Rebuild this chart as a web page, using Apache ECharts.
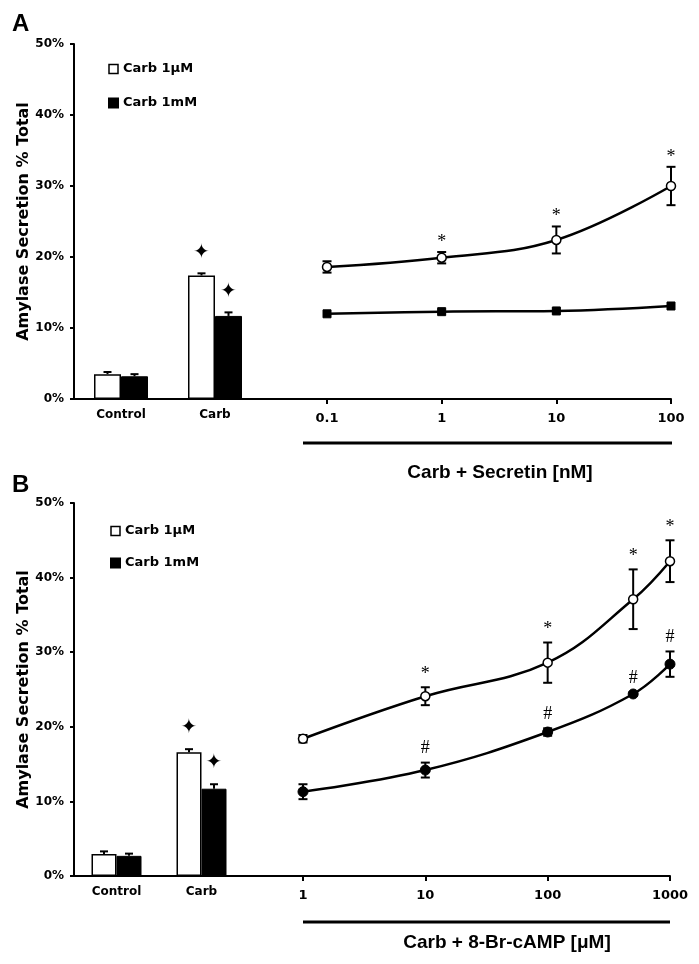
<!DOCTYPE html>
<html><head><meta charset="utf-8">
<script src="https://cdn.jsdelivr.net/npm/echarts@6/dist/echarts.min.js"></script>
<style>html,body{margin:0;padding:0;background:#fff}#c{width:699px;height:964px}</style>
</head><body><div id="c"></div>
<script>
// ---------- data ----------
const barCategories = ['Control', 'Carb'];
const seriesNames = ['Carb 1μM', 'Carb 1mM'];
const yTickPercent = [0, 10, 20, 30, 40, 50];

// Panel A
const barsA_low = [3.5, 17.4];
const barsA_low_err = [0.3, 0.3];
const barsA_low_sig = ['', '✦'];
const barsA_high = [3.2, 11.7];
const barsA_high_err = [0.3, 0.5];
const barsA_high_sig = ['', '✦'];
const secretinConc = [0.1, 1, 10, 100];
const secretinTicks = [0.1, 1, 10, 100];
const secretin_low = [18.6, 19.9, 22.4, 30.0];
const secretin_low_err = [0.8, 0.8, 1.9, 2.7];
const secretin_low_sig = ['', '*', '*', '*'];
const secretin_high = [12.0, 12.3, 12.4, 13.1];
const secretin_high_err = [0.3, 0.3, 0.3, 0.3];
const secretin_high_sig = ['', '', '', ''];

// Panel B
const barsB_low = [2.95, 16.6];
const barsB_low_err = [0.35, 0.4];
const barsB_low_sig = ['', '✦'];
const barsB_high = [2.7, 11.7];
const barsB_high_err = [0.3, 0.6];
const barsB_high_sig = ['', '✦'];
const campConc = [1, 10, 100, 500, 1000];
const camp_ticks = [1, 10, 100, 1000];
const camp_low = [18.4, 24.1, 28.6, 37.1, 42.2];
const camp_low_err = [0.5, 1.2, 2.7, 4.0, 2.8];
const camp_low_sig = ['', '*', '*', '*', '*'];
const camp_high = [11.3, 14.2, 19.3, 24.4, 28.4];
const camp_high_err = [1.0, 1.0, 0.5, 0.2, 1.7];
const camp_high_sig = ['', '#', '#', '#', '#'];

// ---------- styles ----------
const VF = 'DejaVu Sans';
const AF = 'Liberation Sans';
const SF = 'Liberation Serif';

function errSeries(xIdx, yIdx, xs, ys, errs, sigs, opt) {
  return {
    type: 'custom', xAxisIndex: xIdx, yAxisIndex: yIdx, z: 1, silent: true,
    data: xs.map((x, i) => [x, ys[i], errs[i]]),
    renderItem: function (params, api) {
      const i = params.dataIndex;
      const x = api.value(0), y = api.value(1), e = api.value(2);
      const c = api.coord([x, y]);
      const cx = c[0] + (opt.dx || 0);
      const yt = api.coord([x, y + e])[1];
      const yb = opt.upOnly ? c[1] : api.coord([x, y - e])[1];
      const hw = opt.cap / 2;
      const st = { stroke: '#000', lineWidth: 2 };
      const children = [
        { type: 'line', shape: { x1: cx, y1: yt, x2: cx, y2: yb }, style: st },
        { type: 'line', shape: { x1: cx - hw, y1: yt, x2: cx + hw, y2: yt }, style: st }
      ];
      if (!opt.upOnly) children.push({ type: 'line', shape: { x1: cx - hw, y1: yb, x2: cx + hw, y2: yb }, style: st });
      const s = sigs[i];
      if (s) {
        const f = s === '✦' ? opt.starFont : (s === '#' ? opt.hashFont : opt.astFont);
        children.push({ type: 'text', x: cx, y: yt - (s === '✦' ? opt.starGap : opt.sigGap),
          style: { text: s, font: f, fill: '#000', align: 'center', verticalAlign: 'middle' } });
      }
      return { type: 'group', children: children };
    }
  };
}

const sigFonts = { starFont: '20px ' + VF, astFont: '18px ' + SF, hashFont: '18px ' + SF, starGap: 21 };

function catAxis(g) {
  return { type: 'category', gridIndex: g, data: barCategories,
    axisLine: { lineStyle: { color: '#000', width: 2 } }, axisTick: { show: false },
    axisLabel: { color: '#000', fontFamily: VF, fontWeight: 'bold', fontSize: 12, margin: 10 },
    splitLine: { show: false } };
}
function logAxis(g, min, max, ticks) {
  return { type: 'log', gridIndex: g, min: min, max: max, logBase: 10,
    axisLine: { lineStyle: { color: '#000', width: 2 } },
    axisTick: { show: true, customValues: ticks, length: 5, lineStyle: { color: '#000', width: 2 } },
    axisLabel: { customValues: ticks, formatter: function (v) { return String(v); },
      color: '#000', fontFamily: VF, fontWeight: 'bold', fontSize: 13, margin: 13 },
    splitLine: { show: false }, minorTick: { show: false } };
}
function valAxis(g) {
  return { type: 'value', gridIndex: g, min: yTickPercent[0], max: yTickPercent[yTickPercent.length - 1], interval: 10,
    name: 'Amylase Secretion % Total', nameLocation: 'middle', nameGap: 41, nameRotate: 90,
    nameTextStyle: { color: '#000', fontFamily: VF, fontWeight: 'bold', fontSize: 16 },
    axisLine: { show: true, lineStyle: { color: '#000', width: 2 } },
    axisTick: { show: true, length: 4, lineStyle: { color: '#000', width: 2 } },
    axisLabel: { formatter: '{value}%', color: '#000', fontFamily: VF, fontWeight: 'bold', fontSize: 12, margin: 10 },
    splitLine: { show: false } };
}
function hiddenVal(g) {
  return { type: 'value', gridIndex: g, min: yTickPercent[0], max: yTickPercent[yTickPercent.length - 1], show: false, splitLine: { show: false } };
}
function barSeries(xi, yi, name, data, white, bw) {
  return { type: 'bar', name: name, xAxisIndex: xi, yAxisIndex: yi, data: data, barWidth: bw, barGap: '0%',
    itemStyle: white ? { color: '#fff', borderColor: '#000', borderWidth: 1.5 } : { color: '#000', borderColor: '#000', borderWidth: 1 } };
}
function lineSeries(xi, yi, name, xs, ys, white, sym, size) {
  return { type: 'line', name: name, xAxisIndex: xi, yAxisIndex: yi, z: 3,
    data: xs.map((x, i) => [x, ys[i]]), smooth: 0.4, symbol: sym, symbolSize: size, showAllSymbol: true,
    lineStyle: { color: '#000', width: 2.5 },
    itemStyle: white ? { color: '#fff', borderColor: '#000', borderWidth: 1.5 } : { color: '#000', borderColor: '#000', borderWidth: 1 } };
}
function legend(top, left, gap) {
  return { orient: 'vertical', top: top, left: left, padding: 0, itemGap: gap, itemWidth: 9, itemHeight: 9,
    selectedMode: false,
    data: [{ name: seriesNames[0], icon: 'rect', itemStyle: { color: '#fff', borderColor: '#000', borderWidth: 1.5 } },
           { name: seriesNames[1], icon: 'rect', itemStyle: { color: '#000' } }],
    textStyle: { color: '#000', fontFamily: VF, fontWeight: 'bold', fontSize: 13, lineHeight: 14 } };
}

const catIdx = barCategories.map((_, i) => i);

const option = {
  animation: false,
  backgroundColor: '#fff',
  grid: [
    { left: 74, top: 44, width: 188, height: 355 },
    { left: 262, top: 44, width: 409, height: 355 },
    { left: 74, top: 503, width: 170, height: 373 },
    { left: 244, top: 503, width: 426, height: 373 }
  ],
  xAxis: [catAxis(0), logAxis(1, 0.0271, 100, secretinTicks), catAxis(2), logAxis(3, 0.3295, 1000, camp_ticks)],
  yAxis: [valAxis(0), hiddenVal(1), valAxis(2), hiddenVal(3)],
  legend: [legend(62, 108, 20), legend(524, 110, 18)],
  series: [
    barSeries(0, 0, seriesNames[0], barsA_low, true, 27),
    barSeries(0, 0, seriesNames[1], barsA_high, false, 27),
    errSeries(0, 0, catIdx, barsA_low, barsA_low_err, barsA_low_sig, Object.assign({ dx: -13.5, cap: 8, upOnly: true, sigGap: 12 }, sigFonts)),
    errSeries(0, 0, catIdx, barsA_high, barsA_high_err, barsA_high_sig, Object.assign({ dx: 13.5, cap: 8, upOnly: true, sigGap: 12 }, sigFonts)),
    lineSeries(1, 1, seriesNames[0], secretinConc, secretin_low, true, 'circle', 9),
    lineSeries(1, 1, seriesNames[1], secretinConc, secretin_high, false, 'rect', 8),
    errSeries(1, 1, secretinConc, secretin_low, secretin_low_err, secretin_low_sig, Object.assign({ cap: 9, sigGap: 10 }, sigFonts)),
    errSeries(1, 1, secretinConc, secretin_high, secretin_high_err, secretin_high_sig, Object.assign({ cap: 8, sigGap: 10 }, sigFonts)),

    barSeries(2, 2, seriesNames[0], barsB_low, true, 25),
    barSeries(2, 2, seriesNames[1], barsB_high, false, 25),
    errSeries(2, 2, catIdx, barsB_low, barsB_low_err, barsB_low_sig, Object.assign({ dx: -12.5, cap: 8, upOnly: true, sigGap: 12 }, sigFonts)),
    errSeries(2, 2, catIdx, barsB_high, barsB_high_err, barsB_high_sig, Object.assign({ dx: 12.5, cap: 8, upOnly: true, sigGap: 12 }, sigFonts)),
    lineSeries(3, 3, seriesNames[0], campConc, camp_low, true, 'circle', 9),
    lineSeries(3, 3, seriesNames[1], campConc, camp_high, false, 'circle', 10),
    errSeries(3, 3, campConc, camp_low, camp_low_err, camp_low_sig, Object.assign({ cap: 9, sigGap: 13 }, sigFonts)),
    errSeries(3, 3, campConc, camp_high, camp_high_err, camp_high_sig, Object.assign({ cap: 9, sigGap: 14 }, sigFonts))
  ],
  graphic: [
    { type: 'text', x: 12, y: 24, style: { text: 'A', font: 'bold 24px ' + AF, fill: '#000', verticalAlign: 'middle' } },
    { type: 'text', x: 12, y: 485, style: { text: 'B', font: 'bold 24px ' + AF, fill: '#000', verticalAlign: 'middle' } },
    { type: 'line', shape: { x1: 303, y1: 443, x2: 672, y2: 443 }, style: { stroke: '#000', lineWidth: 3 } },
    { type: 'line', shape: { x1: 303, y1: 922, x2: 670, y2: 922 }, style: { stroke: '#000', lineWidth: 3 } },
    { type: 'text', x: 500, y: 473, style: { text: 'Carb + Secretin [nM]', font: 'bold 19px ' + AF, fill: '#000', align: 'center', verticalAlign: 'middle' } },
    { type: 'text', x: 507, y: 943, style: { text: 'Carb + 8-Br-cAMP [μM]', font: 'bold 19px ' + AF, fill: '#000', align: 'center', verticalAlign: 'middle' } }
  ]
};
const chart = echarts.init(document.getElementById('c'), null, { renderer: 'canvas' });
chart.setOption(option);
</script>
</body></html>
